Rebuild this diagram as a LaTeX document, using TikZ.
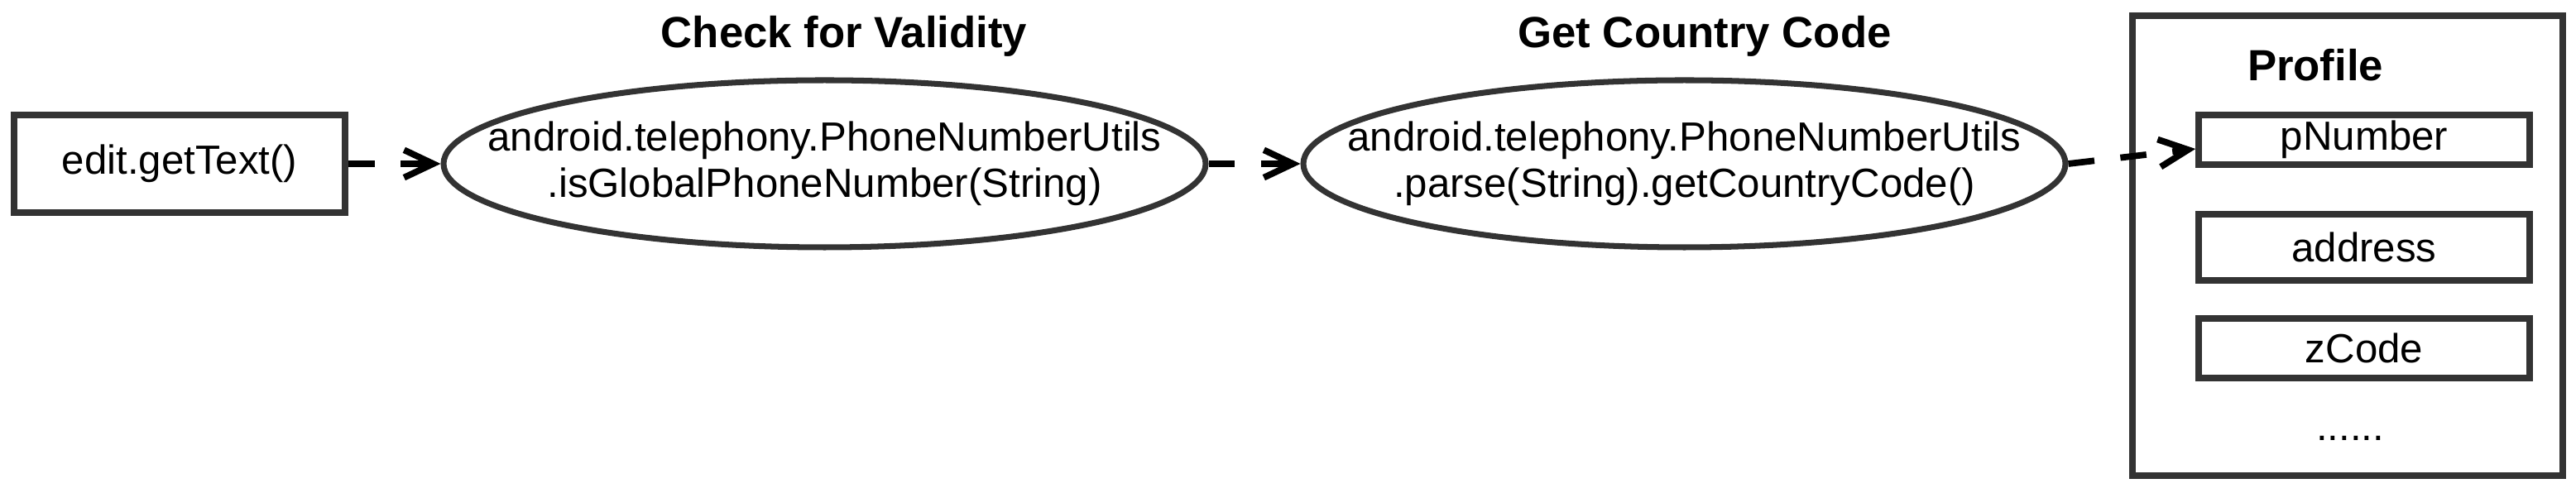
\documentclass[tikz,border=0pt]{standalone}
\usepackage{fontspec}
\setmainfont{Liberation Sans}
\usetikzlibrary{shapes.geometric, arrows.meta}
\definecolor{bordergray}{HTML}{333333}

\begin{document}
\begin{tikzpicture}[
  codebox/.style={draw=bordergray, line width=2.2pt, minimum width=4cm, inner sep=0pt, font=\fontsize{14}{16}\selectfont},
  method/.style={draw=bordergray, line width=2pt, ellipse, minimum width=9.21cm, minimum height=2.02cm, inner ysep=0pt, inner xsep=-3cm, align=center, font=\fontsize{14}{16}\selectfont},
  heading/.style={anchor=base, font=\fontsize{15}{18}\selectfont\bfseries},
  flow/.style={line width=2.2pt, dash pattern=on 9pt off 9pt, -{Straight Barb[length=10pt, width=9.5pt]}}
]
\useasboundingbox (0,0) rectangle (31.13,-5.96);
% left side: input and the two calls
\node[codebox, minimum height=1.18cm] (gettext) at (2.17,-1.98) {edit.getText()};
\node[method] (valid) at (9.965,-1.98) {android.telephony.PhoneNumberUtils\\.isGlobalPhoneNumber(String)};
\node[method] (ccode) at (20.355,-1.98) {android.telephony.PhoneNumberUtils\\.parse(String).getCountryCode()};
\node[heading] (validtitle) at (10.20,-0.58) {Check for Validity};
\node[heading] (ccodetitle) at (20.60,-0.58) {Get Country Code};
% right side: profile
\node[draw=bordergray, line width=2.2pt, minimum width=5.20cm, minimum height=5.56cm, inner sep=0pt] (profile) at (28.37,-2.97) {};
\node[heading] (profiletitle) at (27.98,-0.98) {Profile};
\node[codebox, minimum height=0.60cm] (pnum) at (28.57,-1.69) {pNumber};
\node[codebox, minimum height=0.80cm] (addr) at (28.57,-2.99) {address};
\node[codebox, minimum height=0.715cm] (zcode) at (28.57,-4.21) {zCode};
\node[anchor=base, font=\fontsize{14}{16}\selectfont] (more) at (28.40,-5.33) {......};
% connectors
\draw[flow] (gettext.east) -- (valid.west);
\draw[flow] (valid.east) -- (ccode.west);
\draw[flow] (ccode.east) -- ([yshift=-1.1mm]pnum.west);
\end{tikzpicture}
\end{document}
